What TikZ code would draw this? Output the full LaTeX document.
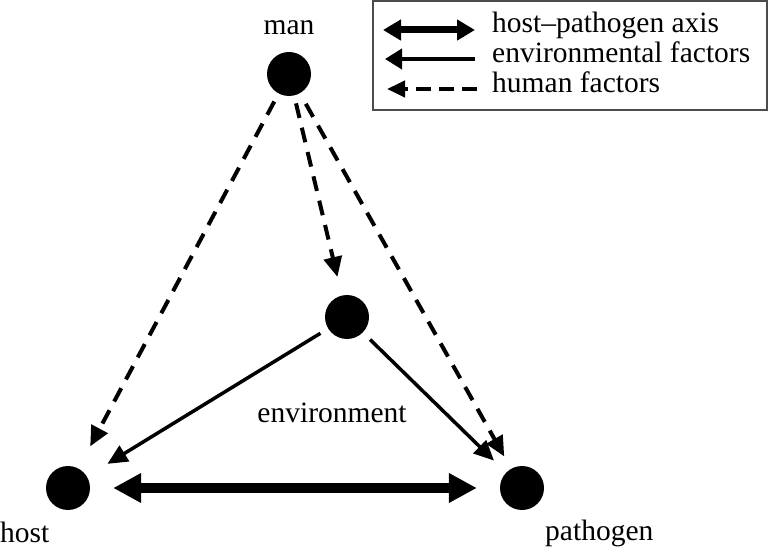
\documentclass[tikz,border=0pt]{standalone}
\usepackage{fontspec}
\setmainfont{Liberation Serif}
\usetikzlibrary{arrows.meta}
\begin{document}
\begin{tikzpicture}[x=1pt,y=-1pt,
  dot/.style={circle,fill=black,draw=none,minimum size=44pt,inner sep=0pt},
  lbl/.style={inner sep=0pt,font=\fontsize{29.5pt}{30pt}\selectfont},
  axisarrow/.style={line width=10pt,{Triangle[length=28pt,width=28pt]}-{Triangle[length=28pt,width=28pt]}},
  envarrow/.style={line width=3.5pt,-{Triangle[length=20pt,width=18pt]}},
  humarrow/.style={line width=4pt,dash pattern=on 15pt off 10pt,-{Triangle[length=20pt,width=18pt]}},
  legbox/.style={draw=black!70,line width=1.5pt}
]
\useasboundingbox (0,0) rectangle (769,548);
% legend
\draw[legbox] (373,1) rectangle (767,110);
\coordinate (la1) at (383,30); \coordinate (la2) at (475,30);
\coordinate (lb1) at (385,59); \coordinate (lb2) at (475,59);
\coordinate (lc1) at (387,89); \coordinate (lc2) at (477,89);
\draw[line width=7pt,{Triangle[length=18pt,width=20pt]}-{Triangle[length=18pt,width=20pt]}] (la1) -- (la2);
\draw[line width=4pt,-{Triangle[length=17pt,width=20pt]}] (lb2) -- (lb1);
\draw[line width=4pt,dash pattern=on 15pt off 8pt,-{Triangle[length=18pt,width=16pt]}] (lc2) -- (lc1);
\node[lbl,anchor=base west] (t1) at (492,33) {host–pathogen axis};
\node[lbl,anchor=base west] (t2) at (492,63) {environmental factors};
\node[lbl,anchor=base west] (t3) at (492,93) {human factors};
% nodes
\node[dot] (man) at (289,74) {};
\node[dot] (env) at (347,317) {};
\node[dot] (host) at (68,488) {};
\node[dot] (path) at (522,488) {};
\node[lbl,anchor=base] (lman) at (289,35) {man};
\node[lbl,anchor=base] (lenv) at (332,422) {environment};
\node[lbl,anchor=base west] (lhost) at (0,542) {host};
\node[lbl,anchor=base west] (lpath) at (545,540) {pathogen};
% connectors
\draw[axisarrow,shorten <=23pt,shorten >=23pt] (host) -- (path);
\draw[envarrow,shorten <=9pt,shorten >=24pt] (env) -- (host);
\draw[envarrow,shorten <=10pt,shorten >=17pt] (env) -- (path);
\draw[humarrow,shorten <=8pt,shorten >=19pt] (man) -- (env);
\draw[humarrow,shorten <=9pt,shorten >=25pt] (man) -- (host);
\draw[humarrow,shorten <=12pt,shorten >=14pt] (man) -- (path);
\end{tikzpicture}
\end{document}
